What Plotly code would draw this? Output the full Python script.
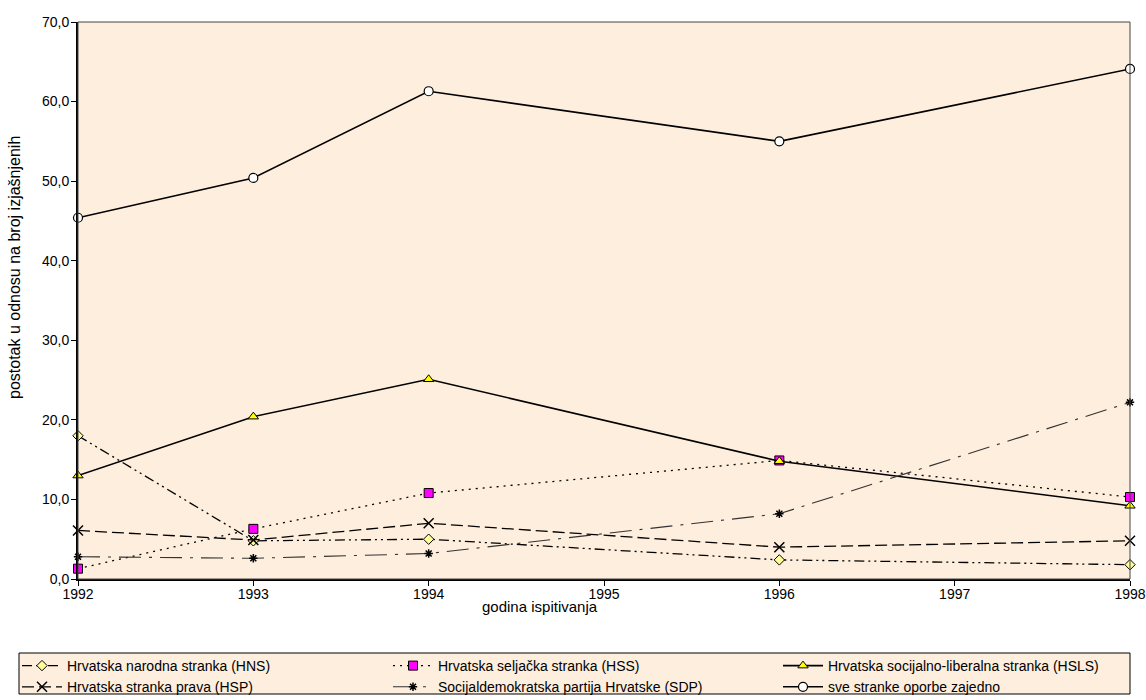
import plotly.graph_objects as go

years = [1992, 1993, 1994, 1996, 1998]
hns = [18.0, 4.8, 5.0, 2.4, 1.8]
hss = [1.3, 6.3, 10.8, 14.9, 10.3]
hsls = [13.0, 20.4, 25.1, 14.8, 9.2]
hsp = [6.1, 4.9, 7.0, 4.0, 4.8]
sdp = [2.8, 2.6, 3.2, 8.2, 22.2]
sve = [45.4, 50.4, 61.3, 55.0, 64.1]

names = [
    "Hrvatska narodna stranka (HNS)",
    "Hrvatska seljačka stranka (HSS)",
    "Hrvatska socijalno-liberalna stranka (HSLS)",
    "Hrvatska stranka prava (HSP)",
    "Socijaldemokratska partija Hrvatske (SDP)",
    "sve stranke oporbe zajedno",
]

y_ticks = [0, 10, 20, 30, 40, 50, 60, 70]
y_labels = ["0,0", "10,0", "20,0", "30,0", "40,0", "50,0", "60,0", "70,0"]
x_ticks = [1992, 1993, 1994, 1995, 1996, 1997, 1998]
x_title = "godina ispitivanja"
y_title = "postotak u odnosu na broj izjašnjenih"

BG = "#FDEEDE"
FS = 14
TFS = 15
L, T, PW, PH = 78, 22, 1052, 557


def px_x(p):
    return (p - L) / PW


def px_y(p):
    return (T + PH - p) / PH


fig = go.Figure()

series = [
    (hns, dict(color="black", width=1.3, dash="10px,4px,2px,4px,2px,4px"),
     dict(symbol="diamond", size=8, color="#FFFF99", line=dict(color="black", width=1)), "legend"),
    (hss, dict(color="black", width=1.3, dash="2px,5px"),
     dict(symbol="square", size=9, color="#FF00FF", line=dict(color="black", width=1)), "legend2"),
    (hsls, dict(color="black", width=1.6, dash="solid"),
     dict(symbol="triangle-up", size=9, color="#FFFF00", line=dict(color="black", width=1)), "legend3"),
    (hsp, dict(color="black", width=1.3, dash="12px,5px"),
     dict(symbol="x-thin", size=10, color="black", line=dict(color="black", width=1.5)), "legend"),
    (sdp, dict(color="#333333", width=1.1, dash="22px,8px,3px,8px"),
     dict(symbol="asterisk-open", size=7, color="black", line=dict(color="black", width=1.5)), "legend2"),
    (sve, dict(color="black", width=1.6, dash="solid"),
     dict(symbol="circle", size=9, color="white", line=dict(color="black", width=1.2)), "legend3"),
]

for (vals, ln, mk, lg), nm in zip(series, names):
    fig.add_trace(go.Scatter(x=years, y=vals, name=nm, mode="lines+markers",
                             line=ln, marker=mk, cliponaxis=False, legend=lg))

# plot-area border (top/right)
fig.add_shape(type="rect", xref="x domain", yref="y domain", x0=0, x1=1, y0=0, y1=1,
              line=dict(color="#444444", width=1), layer="above")
# legend box
fig.add_shape(type="rect", xref="paper", yref="paper",
              x0=px_x(19), x1=px_x(1130), y0=px_y(694), y1=px_y(653),
              line=dict(color="black", width=1), fillcolor=BG, layer="below")

# axis titles
fig.add_annotation(text=x_title, xref="paper", yref="paper", x=px_x(540), y=px_y(606),
                   xanchor="center", yanchor="middle", showarrow=False, font=dict(size=TFS))
fig.add_annotation(text=y_title, xref="paper", yref="paper", x=px_x(14), y=px_y(268),
                   xanchor="center", yanchor="middle", showarrow=False, textangle=-90,
                   font=dict(size=16))

leg_common = dict(orientation="v", yref="paper", xref="paper", yanchor="top",
                  xanchor="left", y=px_y(650), bgcolor="rgba(0,0,0,0)", borderwidth=0,
                  font=dict(size=FS), tracegroupgap=0, itemwidth=40)

fig.update_layout(
    width=1146, height=700,
    margin=dict(l=L, r=1146 - L - PW, t=T, b=700 - T - PH, autoexpand=False),
    paper_bgcolor="white",
    plot_bgcolor=BG,
    font=dict(family="Liberation Sans, Arial, sans-serif", size=FS, color="black"),
    showlegend=True,
    legend=dict(x=px_x(17), **leg_common),
    legend2=dict(x=px_x(388), **leg_common),
    legend3=dict(x=px_x(778), **leg_common),
    xaxis=dict(range=[1992, 1998], tickvals=x_ticks, ticktext=[str(t) for t in x_ticks],
               showgrid=False, zeroline=False, showline=True, linecolor="black", linewidth=2,
               ticks="outside", ticklen=5, tickcolor="black", ticklabelstandoff=-4),
    yaxis=dict(range=[0, 70], tickvals=y_ticks, ticktext=y_labels,
               showgrid=False, zeroline=False, showline=True, linecolor="black", linewidth=2,
               ticks="outside", ticklen=5, tickcolor="black", ticklabelstandoff=-1),
)

fig.write_html("out.html", post_script="document.body.style.margin='0';",
               config={"displayModeBar": False})
